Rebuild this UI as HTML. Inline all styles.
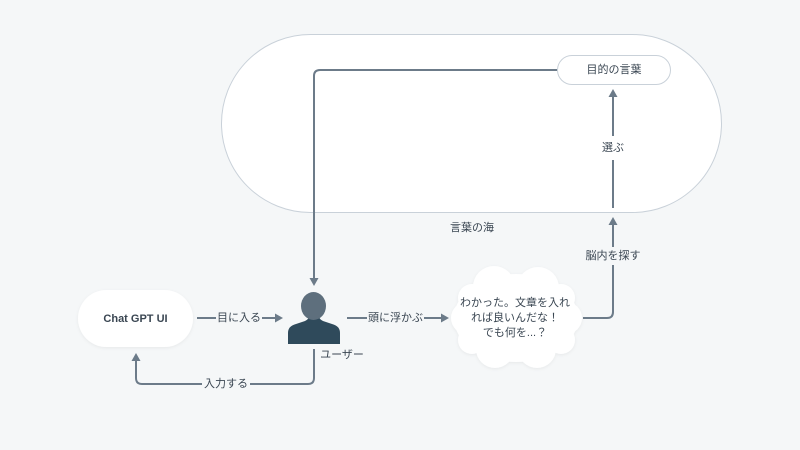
<!DOCTYPE html>
<html><head><meta charset="utf-8"><style>
html,body{margin:0;padding:0;background:#f5f7f8;}
svg{display:block;}
text{font-family:"Liberation Sans","Noto Sans CJK JP",sans-serif;fill:#3a4652;}
</style></head><body>
<svg width="800" height="450" viewBox="0 0 800 450" xmlns="http://www.w3.org/2000/svg">
<defs>
<filter id="sh" x="-20%" y="-20%" width="140%" height="140%">
<feDropShadow dx="0" dy="1" stdDeviation="1.5" flood-color="#000" flood-opacity="0.06"/>
</filter>
</defs>
<rect width="800" height="450" fill="#f5f7f8"/>
<rect x="221.5" y="34.5" width="500" height="178" rx="89" ry="89" fill="#fff" stroke="#c9d1d9" stroke-width="1"/>
<rect x="557.5" y="55.5" width="113" height="29" rx="14.5" fill="#fff" stroke="#c9d1d9" stroke-width="1"/>
<text x="614" y="70" font-size="11" text-anchor="middle" dominant-baseline="central">目的の言葉</text>

<g stroke="#6c7b89" stroke-width="2" fill="none">
<path d="M557,70 H320 Q314,70 314,76 V278"/>
<path d="M613,208 V160"/>
<path d="M613,136 V96"/>
<path d="M583,318 H607 Q613,318 613,312 V265"/>
<path d="M613,247 V224"/>
<path d="M197,318 H216"/>
<path d="M262,318 H275"/>
<path d="M347,318 H367"/>
<path d="M424,318 H441"/>
<path d="M314,349 V378 Q314,384 308,384 H250"/>
<path d="M202,384 H142 Q136,384 136,378 V360"/>
</g>
<g fill="#6c7b89">
<path d="M309.5,278 L318.5,278 L314,286 Z"/>
<path d="M608.5,97 L617.5,97 L613,89 Z"/>
<path d="M608.5,225 L617.5,225 L613,217 Z"/>
<path d="M275,313.5 L275,322.5 L283,318 Z"/>
<path d="M441,313.5 L441,322.5 L449,318 Z"/>
<path d="M131.5,361 L140.5,361 L136,353 Z"/>
</g>
<text x="613" y="148" font-size="11" text-anchor="middle" dominant-baseline="central">選ぶ</text>
<text x="472" y="228" font-size="11" text-anchor="middle" dominant-baseline="central">言葉の海</text>
<text x="613" y="256" font-size="11" text-anchor="middle" dominant-baseline="central">脳内を探す</text>
<text x="239" y="318" font-size="11" text-anchor="middle" dominant-baseline="central">目に入る</text>
<text x="395.5" y="318" font-size="11" text-anchor="middle" dominant-baseline="central">頭に浮かぶ</text>
<text x="226" y="384" font-size="11" text-anchor="middle" dominant-baseline="central">入力する</text>
<text x="342" y="355" font-size="11" text-anchor="middle" dominant-baseline="central">ユーザー</text>

<rect x="78" y="290" width="115" height="57" rx="28.5" fill="#fff" filter="url(#sh)"/>
<text x="135.5" y="319" font-size="11" font-weight="bold" text-anchor="middle" dominant-baseline="central">Chat GPT UI</text>

<path d="M288,344 V333 Q288,326 296,324 L305,321 Q309,319 309,316 L319,316 Q319,319 323,321 L332,324 Q340,326 340,333 V344 Z" fill="#2f4a5b"/>
<ellipse cx="313.5" cy="306" rx="12.5" ry="14" fill="#5e6f7d"/>

<g fill="#fff" filter="url(#sh)">
<ellipse cx="516" cy="318" rx="62" ry="44"/>
<circle cx="494" cy="287" r="21"/>
<circle cx="538" cy="288" r="21"/>
<circle cx="495" cy="349" r="19"/>
<circle cx="537" cy="349" r="19"/>
<circle cx="467" cy="318" r="16"/>
<circle cx="566" cy="318" r="16"/>
<circle cx="472" cy="298" r="14"/>
<circle cx="561" cy="298" r="14"/>
<circle cx="472" cy="340" r="14"/>
<circle cx="561" cy="340" r="14"/>
</g>
<text x="515" y="303" font-size="11" text-anchor="middle" dominant-baseline="central">わかった。文章を入れ</text>
<text x="515" y="318" font-size="11" text-anchor="middle" dominant-baseline="central">れば良いんだな！</text>
<text x="515" y="333" font-size="11" text-anchor="middle" dominant-baseline="central">でも何を...？</text>
</svg>
</body></html>
